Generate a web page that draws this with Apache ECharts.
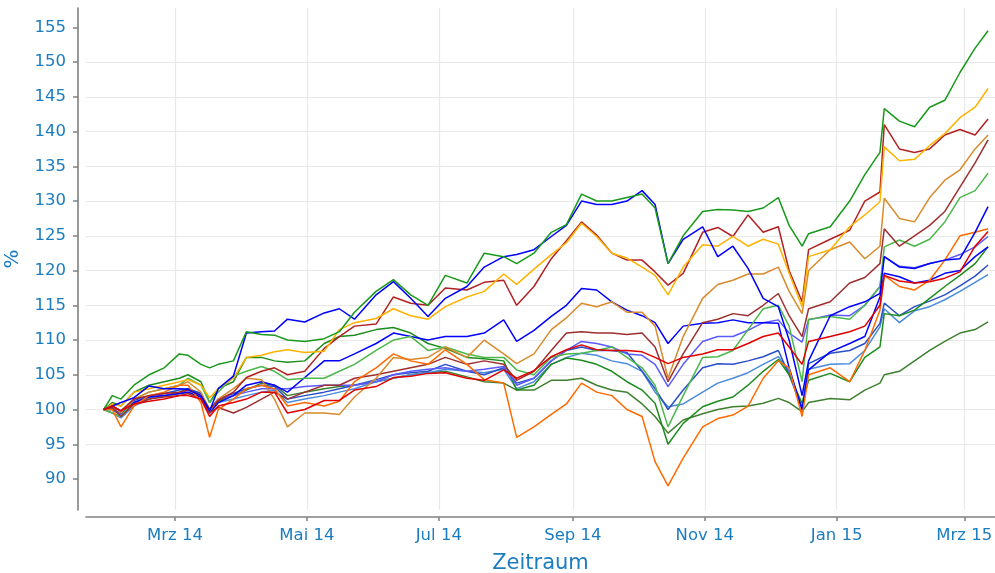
<!DOCTYPE html>
<html>
<head>
<meta charset="utf-8">
<script src="https://cdn.jsdelivr.net/npm/echarts@6/dist/echarts.min.js"></script>
<style>
html, body { margin: 0; padding: 0; background: #fff; }
#main { width: 995px; height: 573px; }
</style>
</head>
<body>
<div id="main"></div>
<script>
// sample dates (weekly-ish, plus the dips)
var dates = ['2014-01-27','2014-01-31','2014-02-04','2014-02-10','2014-02-17','2014-02-24','2014-03-03','2014-03-07','2014-03-13','2014-03-17',
    '2014-03-21','2014-03-28','2014-04-03','2014-04-10','2014-04-16','2014-04-22','2014-04-30','2014-05-09','2014-05-16','2014-05-23',
    '2014-06-02','2014-06-10','2014-06-18','2014-06-26','2014-07-04','2014-07-14','2014-07-22','2014-07-31','2014-08-06','2014-08-14',
    '2014-08-22','2014-08-29','2014-09-05','2014-09-12','2014-09-19','2014-09-26','2014-10-03','2014-10-09','2014-10-15','2014-10-22',
    '2014-10-31','2014-11-07','2014-11-14','2014-11-21','2014-11-28','2014-12-05','2014-12-10','2014-12-16','2014-12-19','2014-12-29',
    '2015-01-07','2015-01-14','2015-01-21','2015-01-23','2015-01-30','2015-02-06','2015-02-13','2015-02-20','2015-02-27','2015-03-06',
    '2015-03-12'];

var greenTop = [100, 102, 101.5, 103.5, 105, 106, 108, 107.8, 106.5, 106,
    106.5, 107, 111.2, 110.8, 110.7, 110, 109.8, 110.2, 111.2, 114,
    117, 118.7, 116.5, 115, 119.3, 118.2, 122.5, 122, 121, 122.5,
    125.5, 126.6, 131, 130, 130, 130.5, 131, 129, 121, 125,
    128.5, 128.8, 128.7, 128.5, 129, 130.5, 126.5, 123.5, 125.3, 126.3,
    130, 133.8, 137, 143.3, 141.5, 140.7, 143.5, 144.5, 148.5, 152,
    154.5];
var gold = [100, 100.8, 100.5, 102.5, 103, 103.5, 104, 104.3, 103.5, 101.7,
    103, 104.5, 107.5, 107.8, 108.3, 108.6, 108.2, 108.4, 111.5, 112.5,
    113.1, 114.5, 113.5, 113, 114.8, 116.2, 117, 119.5, 118, 120.2,
    122.3, 124, 126.8, 124.9, 122.5, 121.8, 120.5, 119.3, 116.5, 120.5,
    123.7, 123.5, 124.9, 123.5, 124.5, 123.8, 119.6, 114.8, 122, 123,
    126.3, 128, 129.9, 137.8, 135.8, 136, 138, 139.7, 142, 143.5,
    146.2];
var firebrick = [100, 100.5, 99.8, 101.5, 102, 102.3, 102.5, 102.8, 102, 100,
    101.3, 102.5, 104.6, 105.5, 106, 105, 105.5, 108.8, 110.5, 112,
    112.3, 116.2, 115.3, 115, 117.5, 117.2, 118.3, 118.6, 115, 117.7,
    121.7, 124.3, 127, 125.1, 122.5, 121.5, 121.5, 119.8, 117.9, 119.6,
    125.5, 126.2, 124.9, 128, 125.5, 126.3, 120, 115.5, 123, 124.5,
    125.8, 130, 131.3, 141, 137.5, 137, 137.5, 139.5, 140.3, 139.5,
    141.8];
var peru = [100, 100.5, 99.5, 101.5, 102.5, 103, 103.5, 104, 102.5, 99.8,
    101.5, 103, 104.5, 104.3, 101.5, 97.5, 99.5, 99.5, 99.3, 101.8,
    104.5, 107.5, 107.2, 107.5, 109, 107.5, 110, 108, 106.6, 108,
    111.5, 113.2, 115.3, 114.8, 115.5, 114, 114, 112, 104.5, 110.5,
    116, 118, 118.6, 119.5, 119.5, 120.5, 117, 113.8, 120, 123,
    124.1, 121.7, 123.5, 130.4, 127.5, 127, 130.5, 133, 134.5, 137.5,
    139.5];
var brown = [100, 100.2, 99, 100.8, 101.5, 101.8, 102, 102.3, 101.5, 99.5,
    100.3, 99.5, 100.3, 101.5, 102.5, 101.5, 102.5, 103.5, 103.5, 104.5,
    105, 105.5, 106, 106.5, 107.5, 106.5, 107, 106.5, 104.2, 105.5,
    108.5, 111, 111.2, 111, 111, 110.8, 111, 109, 104, 108,
    112.5, 113, 113.8, 113.5, 115, 116.7, 113.5, 110.5, 114.5, 115.5,
    118.2, 119, 121, 126, 123.5, 125, 126.5, 128.5, 132, 135.5,
    138.8];
var lightGreen = [100, 99.5, 99, 101.5, 102.5, 103, 103.5, 104.5, 103.5, 101,
    102.5, 104.8, 105.5, 106.2, 105.5, 104.3, 104.5, 104.5, 105.5, 106.5,
    108.5, 110, 110.5, 108.5, 109, 108, 107.5, 107.5, 105.7, 105,
    107.5, 108, 108.1, 108.5, 109, 107.5, 106, 103.5, 97.5, 102,
    107.5, 107.6, 108.5, 111.5, 114.5, 115, 112, 104, 113, 113.4,
    113, 115, 117.7, 123.4, 124.4, 123.5, 124.5, 127, 130.5, 131.5,
    134];
var blue1 = [100, 100.5, 101, 101.7, 103.4, 103, 103, 102.9, 102, 99.8,
    103, 104.8, 111, 111.2, 111.3, 113, 112.6, 113.9, 114.5, 113,
    116.5, 118.4, 116, 113.4, 116, 117.7, 120.5, 122, 122.3, 123,
    124.9, 126.5, 130, 129.5, 129.5, 130, 131.5, 129.5, 121, 124.5,
    126.3, 122, 123.5, 120.3, 116, 114.8, 110, 102, 107, 113.5,
    114.8, 115.5, 116.7, 122, 120.5, 120.3, 121, 121.5, 121.7, 125.5,
    129.2];
var blue2 = [100, 100.3, 99.5, 101, 101.8, 102, 102.3, 102.5, 101.8, 99.5,
    101, 102, 103.5, 104, 103.5, 102.5, 104.6, 107, 107, 108,
    109.5, 111, 110.5, 110, 110.5, 110.5, 111, 112.9, 109.8, 111.4,
    113.4, 115, 117.4, 117.2, 115.5, 114.3, 113.5, 112.5, 109.5, 112,
    112.4, 112.5, 112.9, 112.5, 112.5, 112.4, 106, 100, 105.7, 108.3,
    109.5, 110.5, 116.2, 119.6, 119.1, 118.2, 118.6, 119.6, 120, 122,
    123.4];
var orange = [100, 100, 97.5, 100.5, 102, 102.5, 103.5, 103.5, 101, 96,
    100, 101.5, 103, 103.5, 103, 100.5, 101, 100.5, 101.2, 104,
    106, 108, 107, 106.5, 108.6, 106.5, 104.3, 103.8, 96, 97.5,
    99.3, 100.8, 103.8, 102.5, 102, 100, 99, 92.5, 89, 93,
    97.5, 98.7, 99.2, 100.5, 104.5, 107, 106, 99, 105, 106,
    104, 108.5, 114.3, 119.3, 117.7, 117.2, 118.6, 121.5, 125, 125.5,
    126];
var red = [100, 100.5, 99.8, 100.8, 101.2, 101.5, 102, 102, 101.5, 99,
    100.5, 101, 101.5, 102.5, 102.5, 99.5, 100, 101.3, 101.3, 102.8,
    103.3, 104.6, 104.8, 105.2, 105.3, 104.5, 104.2, 105.7, 104.5, 105.6,
    107.6, 108.6, 109.3, 108.6, 108.5, 108.5, 108.3, 107.5, 106.6, 107.5,
    108, 108.6, 108.6, 109.5, 110.5, 111, 109, 106.5, 109.8, 110.5,
    111.2, 112, 115, 119.3, 118.5, 118.2, 118.4, 118.9, 119.8, 123.5,
    125.6];
var slateBlue = [100, 100, 99.3, 101, 101.8, 102, 102.3, 102.8, 102, 99.8,
    101.5, 102, 102.5, 103, 103, 103, 103.3, 103.5, 103.5, 103.5,
    104, 105, 105.5, 105.8, 106, 105.5, 105.8, 106.2, 103.5, 104.5,
    107, 108.5, 109.8, 109.5, 109, 108, 107.8, 106.5, 103.3, 106.5,
    109.8, 110.5, 110.5, 111.4, 112.5, 112.9, 111, 109.7, 112.9, 113.6,
    113.5, 115, 117.7, 122, 120.6, 120.4, 121, 121.5, 122.3, 123.4,
    124.9];
var green2 = [100, 101, 100.5, 102.5, 103.5, 104, 104.5, 105, 104, 101,
    103, 104, 107.5, 107.5, 107, 106.8, 107, 109.5, 110.5, 110.7,
    111.5, 111.8, 111, 109.5, 108.8, 107.5, 107.3, 107, 102.8, 103.5,
    106.5, 107.4, 107.1, 106.5, 105.5, 104, 102.8, 100.9, 95, 98,
    100.4, 101.2, 101.8, 103.5, 105.5, 107.2, 105, 100.9, 104.2, 105.2,
    104, 107.5, 109, 113.8, 113.5, 114.3, 116, 117.7, 119.3, 121,
    123.4];
var royalBlue = [100, 100.5, 99.8, 101.3, 102, 102.3, 102.8, 103, 102.3, 100,
    101.5, 102.3, 103, 103.5, 103.3, 101.5, 102, 102.5, 103, 103.5,
    104.3, 105, 105.3, 105.5, 106.5, 105.5, 105, 106, 103.8, 104.5,
    107, 108.5, 109, 108.5, 108.5, 108.2, 105.5, 103, 100, 102.8,
    106, 106.6, 106.5, 107, 107.6, 108.5, 105, 100.2, 106.6, 108.1,
    108.5, 109.5, 112.4, 115.3, 113.5, 114.8, 115.6, 116.5, 117.8, 119.2,
    120.8];
var cornflower = [100, 99.5, 98.8, 100.5, 101.5, 102, 102.3, 102.5, 101.8, 99.5,
    101, 101.5, 102, 102.5, 102.8, 101, 101.5, 102, 102.5, 103,
    104, 104.5, 105, 105.3, 105.8, 105.5, 105.3, 105.8, 103, 104,
    106.5, 107.5, 108.1, 107.8, 107, 106.6, 105.5, 102.5, 100.4, 100.8,
    102.5, 103.8, 104.5, 105.3, 106.5, 107.6, 105.5, 100, 105.8, 106.5,
    106.6, 108.5, 111.9, 114.5, 112.5, 114.2, 114.8, 115.8, 117, 118.3,
    119.4];
var darkGreen = [100, 100, 99.3, 100.8, 101.5, 102, 102.5, 103, 102.3, 100,
    101.2, 102, 102.8, 103.8, 103.5, 102, 102.5, 103, 103.3, 103.5,
    104, 104.5, 105, 105.3, 105.5, 104.7, 104, 103.8, 102.8, 102.8,
    104.2, 104.2, 104.5, 103.5, 102.8, 102.5, 100.8, 99, 96.6, 98.5,
    99.4, 100, 100.4, 100.5, 100.9, 101.6, 101, 99.7, 101, 101.6,
    101.4, 102.8, 103.8, 105, 105.5, 107, 108.5, 109.8, 111, 111.5,
    112.6];

var xTicks = ['2014-03-01','2014-05-01','2014-07-01','2014-09-01','2014-11-01','2015-01-01','2015-03-01'];
var yTicks = [90, 95, 100, 105, 110, 115, 120, 125, 130, 135, 140, 145, 150, 155];
var monthNames = ['Jan','Feb','Mrz','Apr','Mai','Jun','Jul','Aug','Sep','Okt','Nov','Dez'];

function toTime(s) {
    var p = s.split('-');
    return new Date(+p[0], +p[1] - 1, +p[2]).getTime();
}

var blueText = '#1b7dc0';
var axisGray = '#808080';
var font = 'DejaVu Sans';

var lines = [
    { name: 'darkGreen', color: '#3f7f30', data: darkGreen },
    { name: 'cornflower', color: '#4a8bdc', data: cornflower },
    { name: 'royalBlue', color: '#2b4fc8', data: royalBlue },
    { name: 'green2', color: '#1c8c1c', data: green2 },
    { name: 'slateBlue', color: '#5a5aff', data: slateBlue },
    { name: 'blue2', color: '#0000ff', data: blue2 },
    { name: 'lightGreen', color: '#4cb84c', data: lightGreen },
    { name: 'brown', color: '#9e2f2f', data: brown },
    { name: 'peru', color: '#d98a2b', data: peru },
    { name: 'orange', color: '#ff6a00', data: orange },
    { name: 'firebrick', color: '#b22222', data: firebrick },
    { name: 'gold', color: '#ffb300', data: gold },
    { name: 'blue1', color: '#0000ff', data: blue1 },
    { name: 'greenTop', color: '#18991a', data: greenTop },
    { name: 'red', color: '#e00000', data: red }
];

var myChart = echarts.init(document.getElementById('main'));

var option = {
    animation: false,
    backgroundColor: '#ffffff',
    grid: { left: 86, right: 0, top: 8, bottom: 63, outerBoundsMode: 'none' },
    xAxis: {
        // dates as plain millisecond values, ticks only at the month marks
        type: 'value',
        min: new Date(2014, 0, 18, 20).getTime(),
        max: new Date(2015, 2, 15, 5).getTime(),
        offset: 7,
        name: 'Zeitraum',
        nameLocation: 'middle',
        nameGap: 36,
        nameTextStyle: { color: blueText, fontSize: 21, fontFamily: font },
        axisLine: { lineStyle: { color: axisGray, width: 1.6 } },
        axisTick: {
            customValues: xTicks.map(toTime),
            length: 4,
            lineStyle: { color: axisGray, width: 1.5 }
        },
        axisLabel: {
            customValues: xTicks.map(toTime),
            color: blueText,
            fontSize: 16.5,
            fontFamily: font,
            margin: 10,
            formatter: function (v) {
                var d = new Date(v);
                return monthNames[d.getMonth()] + ' ' + String(d.getFullYear()).slice(2);
            }
        },
        splitLine: { show: true, lineStyle: { color: '#e8e8e8', width: 1.2 } }
    },
    yAxis: {
        type: 'value',
        min: 85.54,
        max: 157.78,
        minInterval: 5,
        maxInterval: 5,
        splitNumber: 14,
        offset: 8,
        name: '%',
        nameLocation: 'middle',
        nameGap: 55,
        nameRotate: 90,
        nameTextStyle: { color: blueText, fontSize: 20, fontFamily: font },
        axisLine: { show: true, lineStyle: { color: axisGray, width: 1.6 } },
        axisTick: {
            show: true,
            customValues: yTicks,
            length: 5,
            lineStyle: { color: axisGray, width: 1.5 }
        },
        axisLabel: {
            customValues: yTicks,
            color: blueText,
            fontSize: 16.5,
            fontFamily: font,
            margin: 12
        },
        splitLine: {
            show: true,
            showMinLine: false,
            showMaxLine: false,
            lineStyle: { color: '#e8e8e8', width: 1.2 }
        }
    },
    series: lines.map(function (s) {
        return {
            name: s.name,
            type: 'line',
            showSymbol: false,
            symbol: 'none',
            color: s.color,
            lineStyle: { color: s.color, width: 1.5 },
            data: dates.map(function (d, i) { return [toTime(d), s.data[i]]; })
        };
    })
};
myChart.setOption(option);
</script>
</body>
</html>
